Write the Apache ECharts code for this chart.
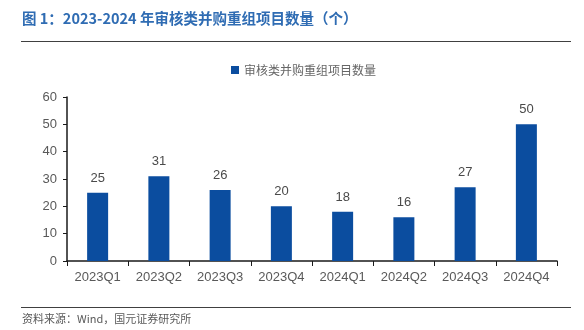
<!DOCTYPE html>
<html><head><meta charset="utf-8">
<script src="https://cdn.jsdelivr.net/npm/echarts@6/dist/echarts.min.js"></script>
<style>html,body{margin:0;padding:0;background:#fff}#c{width:584px;height:330px}</style>
</head><body><div id="c"></div>
<script>
const categories = ['2023Q1','2023Q2','2023Q3','2023Q4','2024Q1','2024Q2','2024Q3','2024Q4'];
const values = [25, 31, 26, 20, 18, 16, 27, 50];
const seriesName = '审核类并购重组项目数量';
const yTicks = [0, 10, 20, 30, 40, 50, 60];
const titleText = '图 1：2023-2024 年审核类并购重组项目数量（个）';
const sourceText = '资料来源：Wind，国元证券研究所';

const chart = echarts.init(document.getElementById('c'), null, {renderer:'canvas'});
chart.setOption({
  animation: false,
  backgroundColor: '#fff',
  graphic: [
    {type:'text', left: 22, top: 11, style:{text: titleText, fill:'#2f6cb3', font:'bold 14.5px "Noto Sans CJK SC", sans-serif'}},
    {type:'line', shape:{x1:21, y1:41.5, x2:571, y2:41.5}, style:{stroke:'#404040', lineWidth:1.2}},
    {type:'line', shape:{x1:21, y1:307.5, x2:571, y2:307.5}, style:{stroke:'#404040', lineWidth:1}},
    {type:'text', left: 22, top: 313, style:{text: sourceText, fill:'#595959', font:'11px "Noto Sans CJK SC", sans-serif'}}
  ],
  legend: {
    data: [seriesName], top: 59, left: 226,
    icon: 'rect', itemWidth: 8, itemHeight: 8, itemGap: 4,
    textStyle: {color:'#666666', fontSize: 12, fontFamily:'"Noto Sans CJK SC", sans-serif'}
  },
  grid: {left: 67, right: 27, top: 97, bottom: 69, containLabel: false},
  xAxis: {
    type: 'category', data: categories,
    axisLine: {lineStyle:{color:'#1a1a1a', width:1.5}},
    axisTick: {show:true, alignWithLabel:false, length:5, lineStyle:{color:'#1a1a1a'}},
    axisLabel: {color:'#595959', fontSize:13, margin:10, fontFamily:'Liberation Sans, Arial, sans-serif'}
  },
  yAxis: {
    type: 'value', min: yTicks[0], max: yTicks[yTicks.length-1], interval: 10,
    axisLine: {show:true, lineStyle:{color:'#1a1a1a', width:1.5}},
    axisTick: {show:true, length:4, lineStyle:{color:'#1a1a1a'}},
    splitLine: {show:false},
    axisLabel: {color:'#595959', fontSize:13, margin:10, fontFamily:'Liberation Sans, Arial, sans-serif'}
  },
  series: [{
    name: seriesName, type: 'bar', data: values, barWidth: 21,
    itemStyle: {color:'#0b4d9f'},
    label: {show:true, position:'top', distance:8, color:'#4a4a4a', fontSize:13, fontFamily:'Liberation Sans, Arial, sans-serif'}
  }]
});
</script></body></html>
